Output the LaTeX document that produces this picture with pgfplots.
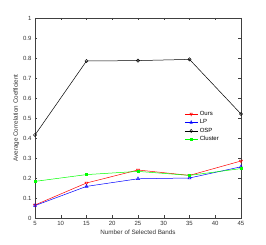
\documentclass[border=0pt]{standalone}
\usepackage{pgfplots}
\pgfplotsset{compat=1.18}
\usepackage{fontspec}
\setmainfont{Liberation Sans}
\begin{document}
\begin{tikzpicture}
\path[use as bounding box] (-35pt,-27pt) rectangle (231pt,218pt);
\begin{axis}[
  at={(0,0)}, anchor=south west,
  scale only axis, width=206pt, height=200pt,
  xmin=5, xmax=45, ymin=0, ymax=1,
  xtick={5,10,...,45}, ytick={0,0.1,...,1},
  yticklabels={0,0.1,0.2,0.3,0.4,0.5,0.6,0.7,0.8,0.9,1},
  tick align=inside, tick pos=both,
  major tick length=2.5pt,
  axis line style={black!75}, every tick/.style={black!75},
  tick label style={font=\fontsize{6}{7}\selectfont, text=black!80},
  /pgf/number format/assume math mode=true,
  xlabel={Number of Selected Bands}, ylabel={Average Correlation Coefficient},
  label style={font=\fontsize{6.3}{7}\selectfont, text=black!80},
  xlabel style={yshift=3pt}, ylabel style={yshift=-3pt},
  legend style={at={(0.72,0.55)}, anchor=north west, draw=none, fill=white,
    font=\fontsize{6}{7}\selectfont, inner sep=1pt, row sep=-1.2pt,
    legend cell align=left},
  legend image post style={xscale=0.75},
]
\addplot[red, mark=triangle, mark options={rotate=180, scale=0.9}, line width=0.5pt]
  coordinates {(5,0.065) (15,0.175) (25,0.24) (35,0.213) (45,0.285)};
\addlegendentry{Ours}
\addplot[blue, mark=triangle, mark options={scale=0.9}, line width=0.5pt]
  coordinates {(5,0.062) (15,0.158) (25,0.196) (35,0.2) (45,0.256)};
\addlegendentry{LP}
\addplot[black, mark=o, mark options={scale=0.8}, line width=0.5pt]
  coordinates {(5,0.415) (15,0.785) (25,0.787) (35,0.793) (45,0.52)};
\addlegendentry{OSP}
\addplot[green, mark=square*, mark options={scale=0.55}, line width=0.5pt]
  coordinates {(5,0.183) (15,0.217) (25,0.233) (35,0.213) (45,0.247)};
\addlegendentry{Cluster}
\end{axis}
\end{tikzpicture}
\end{document}
